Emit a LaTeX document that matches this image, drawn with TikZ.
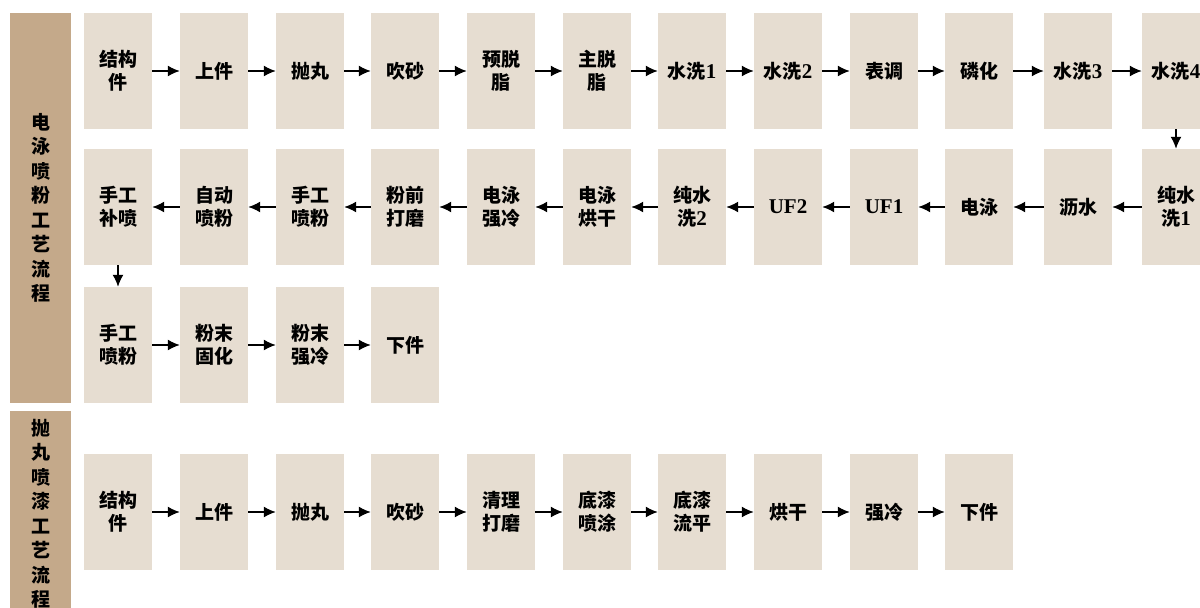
\documentclass[tikz,border=0pt]{standalone}
\usepackage{fontspec}
\usepackage{tikz}
\usetikzlibrary{arrows.meta}
\setmainfont{Liberation Serif}
\newfontfamily\cjk{Noto Sans CJK SC}
\newcommand{\en}[1]{{\rmfamily\bfseries\fontsize{21}{23}\selectfont #1}}
\definecolor{bandc}{HTML}{C4A98A}
\definecolor{boxc}{HTML}{E6DDD1}

\begin{document}
\begin{tikzpicture}[x=1pt, y=-1pt,
    box/.style={fill=boxc, minimum width=68pt, minimum height=116pt, inner sep=0pt,
        align=center, font=\cjk\bfseries\fontsize{19}{23}\selectfont},
    band/.style={fill=bandc, minimum width=61pt, inner sep=0pt,
        align=center, font=\cjk\bfseries\fontsize{19}{24.5}\selectfont},
    flow/.style={black, line width=1.5pt, -{Latex[length=12pt,width=11pt]}}]
    \useasboundingbox (0,0) rectangle (1200,608);
    \clip (0,0) rectangle (1200,608);
    % side bands
    \node (band1) [band, minimum height=390pt] at (40.5,208) {电\\泳\\喷\\粉\\工\\艺\\流\\程};
    \node (band2) [band, minimum height=206pt] at (40.5,514) {抛\\丸\\喷\\漆\\工\\艺\\流\\程};
    % row 1
    \node (a1) [box] at (118,71) {结构\\件};
    \node (a2) [box] at (214,71) {上件};
    \node (a3) [box] at (310,71) {抛丸};
    \node (a4) [box] at (405,71) {吹砂};
    \node (a5) [box] at (501,71) {预脱\\脂};
    \node (a6) [box] at (597,71) {主脱\\脂};
    \node (a7) [box] at (692,71) {水洗\en{1}};
    \node (a8) [box] at (788,71) {水洗\en{2}};
    \node (a9) [box] at (884,71) {表调};
    \node (a10) [box] at (979,71) {磷化};
    \node (a11) [box] at (1078,71) {水洗\en{3}};
    \node (a12) [box] at (1176,71) {水洗\en{4}};
    % row 2
    \node (b12) [box] at (1176,207) {纯水\\洗\en{1}};
    \node (b11) [box] at (1078,207) {沥水};
    \node (b10) [box] at (979,207) {电泳};
    \node (b9) [box] at (884,207) {\en{UF1}};
    \node (b8) [box] at (788,207) {\en{UF2}};
    \node (b7) [box] at (692,207) {纯水\\洗\en{2}};
    \node (b6) [box] at (597,207) {电泳\\烘干};
    \node (b5) [box] at (501,207) {电泳\\强冷};
    \node (b4) [box] at (405,207) {粉前\\打磨};
    \node (b3) [box] at (310,207) {手工\\喷粉};
    \node (b2) [box] at (214,207) {自动\\喷粉};
    \node (b1) [box] at (118,207) {手工\\补喷};
    % row 3
    \node (c1) [box] at (118,345) {手工\\喷粉};
    \node (c2) [box] at (214,345) {粉末\\固化};
    \node (c3) [box] at (310,345) {粉末\\强冷};
    \node (c4) [box] at (405,345) {下件};
    % row 4
    \node (d1) [box] at (118,512) {结构\\件};
    \node (d2) [box] at (214,512) {上件};
    \node (d3) [box] at (310,512) {抛丸};
    \node (d4) [box] at (405,512) {吹砂};
    \node (d5) [box] at (501,512) {清理\\打磨};
    \node (d6) [box] at (597,512) {底漆\\喷涂};
    \node (d7) [box] at (692,512) {底漆\\流平};
    \node (d8) [box] at (788,512) {烘干};
    \node (d9) [box] at (884,512) {强冷};
    \node (d10) [box] at (979,512) {下件};
    % arrows
    \draw [flow] (a1) -- (a2);
    \draw [flow] (a2) -- (a3);
    \draw [flow] (a3) -- (a4);
    \draw [flow] (a4) -- (a5);
    \draw [flow] (a5) -- (a6);
    \draw [flow] (a6) -- (a7);
    \draw [flow] (a7) -- (a8);
    \draw [flow] (a8) -- (a9);
    \draw [flow] (a9) -- (a10);
    \draw [flow] (a10) -- (a11);
    \draw [flow] (a11) -- (a12);
    \draw [flow] (a12) -- (b12);
    \draw [flow] (b12) -- (b11);
    \draw [flow] (b11) -- (b10);
    \draw [flow] (b10) -- (b9);
    \draw [flow] (b9) -- (b8);
    \draw [flow] (b8) -- (b7);
    \draw [flow] (b7) -- (b6);
    \draw [flow] (b6) -- (b5);
    \draw [flow] (b5) -- (b4);
    \draw [flow] (b4) -- (b3);
    \draw [flow] (b3) -- (b2);
    \draw [flow] (b2) -- (b1);
    \draw [flow] (b1) -- (c1);
    \draw [flow] (c1) -- (c2);
    \draw [flow] (c2) -- (c3);
    \draw [flow] (c3) -- (c4);
    \draw [flow] (d1) -- (d2);
    \draw [flow] (d2) -- (d3);
    \draw [flow] (d3) -- (d4);
    \draw [flow] (d4) -- (d5);
    \draw [flow] (d5) -- (d6);
    \draw [flow] (d6) -- (d7);
    \draw [flow] (d7) -- (d8);
    \draw [flow] (d8) -- (d9);
    \draw [flow] (d9) -- (d10);
\end{tikzpicture}
\end{document}
